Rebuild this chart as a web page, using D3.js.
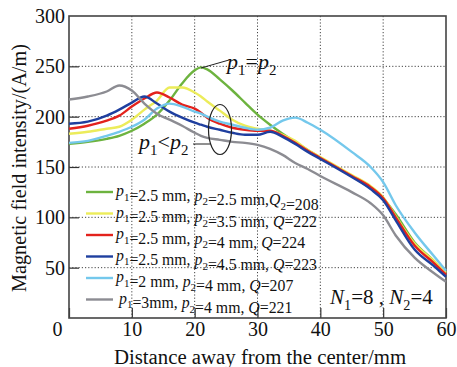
<!DOCTYPE html>
<html>
<head>
<meta charset="utf-8">
<script src="https://cdn.jsdelivr.net/npm/d3@7"></script>
<style>
  body { margin: 0; background: #fff; }
  text { font-family: "Liberation Serif", "Times New Roman", serif; fill: #111; }
</style>
</head>
<body>
<div id="chart"></div>
<script>
// distance from center (mm)
const distance = [0, 3, 6, 8, 10, 12, 14, 16, 18, 20, 21, 22, 24, 26, 28, 30, 32, 34, 36, 38, 40, 45, 48, 50, 52, 55, 58, 60];

const green  = [173, 175, 178, 181, 186, 193, 202, 216, 233, 246, 249, 247, 237, 226, 214, 202, 192, 183, 175, 167, 159, 141, 129, 119, 103, 75, 57, 44];
const yellow = [183, 185, 188, 190, 197, 207, 216, 229, 229, 224, 220, 215, 206, 197, 191, 188, 186, 182, 176, 167, 160, 142, 131, 120, 101, 74, 57, 45];
const red    = [188, 191, 196, 201, 210, 218, 224, 219, 212, 208, 204, 199, 193, 189, 187, 186, 186, 181, 174, 166, 159, 141, 130, 119, 100, 72, 55, 43];
const blue   = [193, 195, 201, 207, 214, 220, 213, 205, 199, 194, 192, 190, 187, 184, 182, 182, 185, 180, 173, 165, 158, 140, 128, 117, 97, 68, 52, 41];
const skyblue = [174, 176, 181, 185, 190, 197, 208, 213, 210, 205, 203, 200, 195, 192, 189, 187, 189, 196, 199, 194, 187, 165, 150, 135, 112, 85, 62, 47];
const gray   = [217, 220, 225, 231, 226, 213, 203, 197, 191, 184, 181, 179, 177, 175, 174, 172, 168, 162, 154, 148, 141, 125, 114, 102, 82, 60, 45, 36];

const xTicks = [0, 10, 20, 30, 40, 50, 60];
const yTicks = [50, 100, 150, 200, 250, 300];

// legend: p1, p2 and Q for each curve
const legendP1 = ['2.5', '2.5', '2.5', '2.5', '2', '3'];
const legendP2 = ['2.5', '3.5', '4', '4.5', '4', '4'];
const legendQ  = ['208', '222', '224', '223', '207', '221'];

const seriesValues = [green, yellow, red, blue, skyblue, gray];
const colors = ['#6db33f', '#ecec5a', '#e3221c', '#1f3f9f', '#74c8ec', '#8c8c92'];

const width = 457, height = 367;
const margin = { top: 16, right: 11, bottom: 49, left: 69 };

const svg = d3.select('#chart').append('svg')
  .attr('width', width)
  .attr('height', height);

const x = d3.scaleLinear().domain([0, 60]).range([margin.left, width - margin.right]);
const y = d3.scaleLinear().domain([0, 300]).range([height - margin.bottom, margin.top]);

// dotted grid
svg.append('g').selectAll('line').data(xTicks.slice(1, -1)).enter().append('line')
  .attr('x1', d => x(d)).attr('x2', d => x(d))
  .attr('y1', y(0)).attr('y2', y(300))
  .attr('stroke', '#444').attr('stroke-width', 1).attr('stroke-dasharray', '1.2,2');
svg.append('g').selectAll('line').data(yTicks.slice(0, -1)).enter().append('line')
  .attr('x1', x(0)).attr('x2', x(60))
  .attr('y1', d => y(d)).attr('y2', d => y(d))
  .attr('stroke', '#444').attr('stroke-width', 1).attr('stroke-dasharray', '1.2,2');

// axes with inward ticks
const xAxis = svg.append('g')
  .attr('transform', `translate(0,${y(0)})`)
  .call(d3.axisBottom(x).tickValues(xTicks).tickSizeInner(-10).tickSizeOuter(0).tickPadding(14));
const yAxis = svg.append('g')
  .attr('transform', `translate(${x(0)},0)`)
  .call(d3.axisLeft(y).tickValues(yTicks).tickSizeInner(-10).tickSizeOuter(0).tickPadding(4));

[xAxis, yAxis].forEach(ax => {
  ax.select('.domain').remove();
  ax.selectAll('.tick line').attr('stroke', '#333').attr('stroke-width', 1.2);
  ax.selectAll('.tick text').style('font-size', '20px').attr('fill', '#111');
});
xAxis.selectAll('.tick text').attr('dy', '0.2em');
xAxis.selectAll('.tick').filter(d => d === 0).select('text').attr('dx', -12);
yAxis.selectAll('.tick').filter(d => d === 300).select('line').remove();

// frame
svg.append('rect')
  .attr('x', x(0)).attr('y', y(300))
  .attr('width', x(60) - x(0)).attr('height', y(0) - y(300))
  .attr('fill', 'none').attr('stroke', '#444').attr('stroke-width', 1.6);

// curves
const line = d3.line()
  .x((d, i) => x(distance[i]))
  .y(d => y(d))
  .curve(d3.curveMonotoneX);

svg.append('g').selectAll('path').data(seriesValues).enter().append('path')
  .attr('d', d => line(d))
  .attr('fill', 'none')
  .attr('stroke', (d, i) => colors[i])
  .attr('stroke-width', 2.4);

// legend
const legend = svg.append('g');
const rowY = i => 192 + i * 21.5;
legend.selectAll('line').data(legendQ).enter().append('line')
  .attr('x1', 86).attr('x2', 113)
  .attr('y1', (d, i) => rowY(i)).attr('y2', (d, i) => rowY(i))
  .attr('stroke', (d, i) => colors[i]).attr('stroke-width', 2.4);

function addSub(t, main, sub, italic) {
  t.append('tspan').text(main).style('font-style', italic ? 'italic' : 'normal');
  t.append('tspan').text(sub).attr('dy', 4.5).style('font-size', '11px');
  t.append('tspan').text('').attr('dy', -4.5);
}

legendQ.forEach((q, i) => {
  const t = legend.append('text')
    .attr('x', i === 5 ? 119 : 116)
    .attr('y', rowY(i) + 4)
    .style('font-size', '15.8px');
  addSub(t, 'p', '1', true);
  t.append('tspan').text('=' + legendP1[i] + (i === 5 ? 'mm, ' : ' mm, '));
  addSub(t, 'p', '2', true);
  t.append('tspan').text('=' + legendP2[i] + ' mm' + (i === 0 ? ',' : ', '));
  if (i === 0) {
    addSub(t, 'Q', '2', true);
  } else {
    t.append('tspan').text('Q').style('font-style', 'italic');
  }
  t.append('tspan').text('=' + q);
});

// annotations
function annot(xp, yp, parts, size) {
  const t = svg.append('text').attr('x', xp).attr('y', yp).style('font-size', size + 'px');
  parts.forEach(p => {
    const s = t.append('tspan').text(p.t);
    if (p.i) s.style('font-style', 'italic');
    if (p.sub) { s.attr('dy', 6).style('font-size', (size * 0.68) + 'px'); }
    if (p.up) s.attr('dy', -6);
  });
}

annot(227, 69, [{ t: 'p', i: true }, { t: '1', sub: true }, { t: '=', up: true }, { t: 'p', i: true }, { t: '2', sub: true }], 22);
svg.append('line').attr('x1', 201).attr('y1', 68).attr('x2', 229).attr('y2', 60)
  .attr('stroke', '#222').attr('stroke-width', 1);

annot(139, 149, [{ t: 'p', i: true }, { t: '1', sub: true }, { t: '<', up: true }, { t: 'p', i: true }, { t: '2', sub: true }], 22);
svg.append('line').attr('x1', 193).attr('y1', 144).attr('x2', 210).attr('y2', 144)
  .attr('stroke', '#222').attr('stroke-width', 1);
svg.append('ellipse').attr('cx', 220).attr('cy', 129.5).attr('rx', 11.5).attr('ry', 25)
  .attr('fill', 'none').attr('stroke', '#222').attr('stroke-width', 1.2);

annot(330, 304, [{ t: 'N', i: true }, { t: '1', sub: true }, { t: '=8 , ', up: true }, { t: 'N', i: true }, { t: '2', sub: true }, { t: '=4', up: true }], 21);

// axis titles
svg.append('text')
  .attr('x', 260).attr('y', 364)
  .attr('text-anchor', 'middle')
  .style('font-size', '20.8px')
  .text('Distance away from the center/mm');

svg.append('text')
  .attr('transform', `translate(26,${168}) rotate(-90)`)
  .attr('text-anchor', 'middle')
  .style('font-size', '20.2px')
  .text('Magnetic field intensity/(A/m)');
</script>
</body>
</html>
